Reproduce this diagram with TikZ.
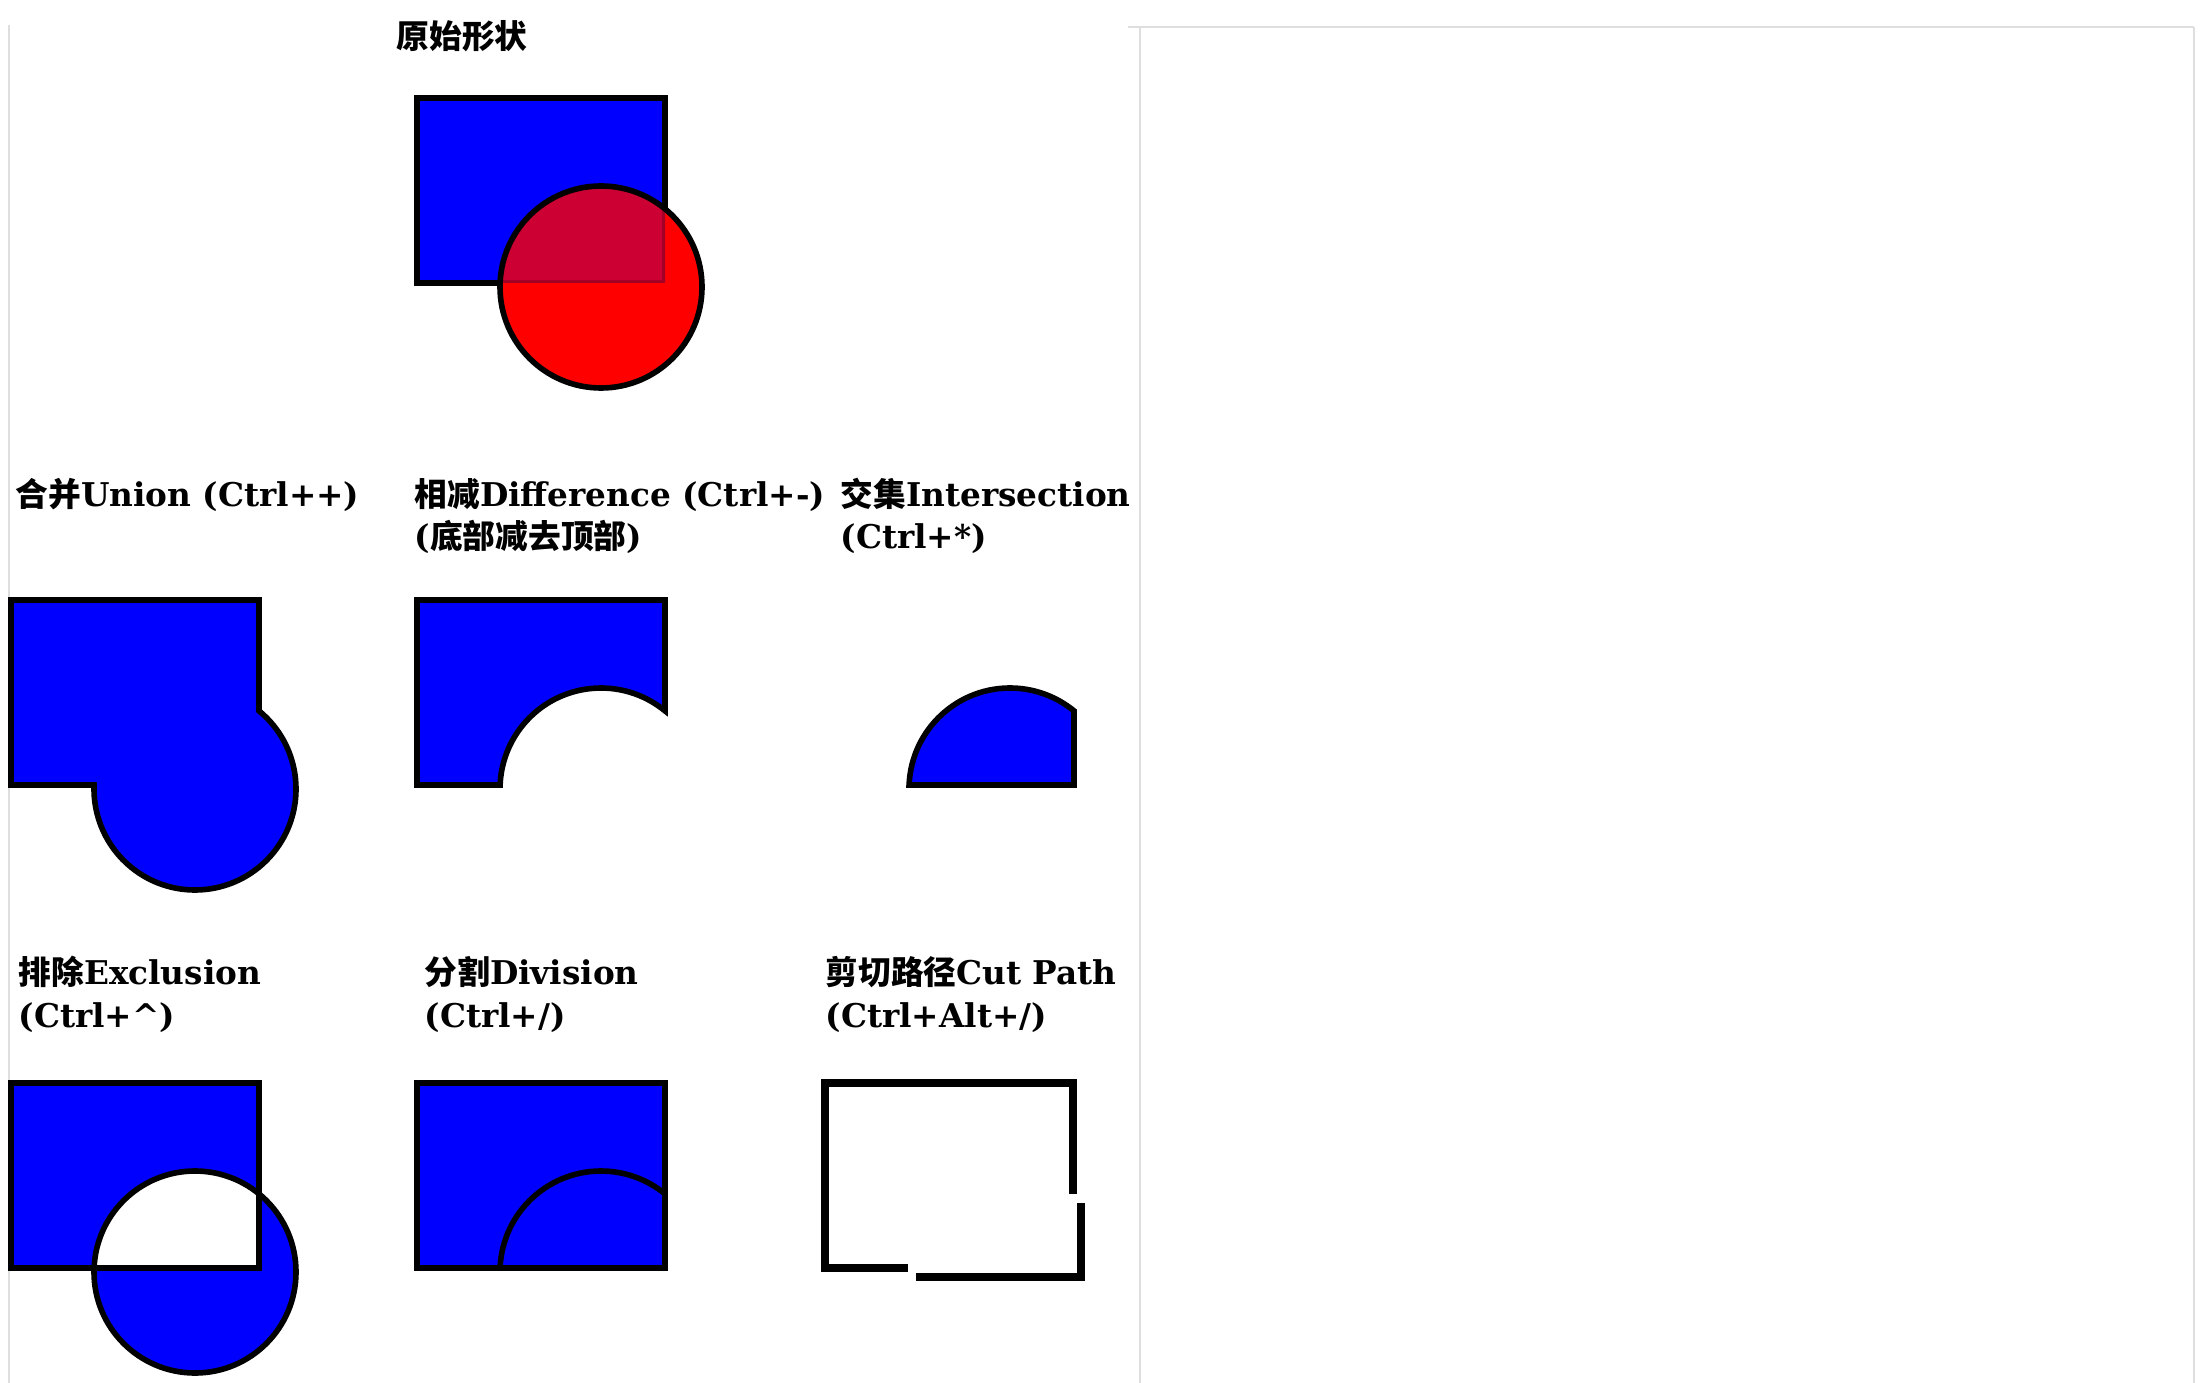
\documentclass[tikz,border=0pt]{standalone}
\usepackage{fontspec}
\setmainfont{DejaVu Serif}
\newfontfamily\cjk{Noto Sans CJK SC}
\usepackage{tikz}
\definecolor{shapeblue} {RGB}{0,   0, 255}
\definecolor{shapered}  {RGB}{255, 0,   0}
\definecolor{framegray} {RGB}{222,222,222}
\newcommand{\zh}[1]{{\cjk #1}}

\begin{document}
\begin{tikzpicture}[
      x=0.01cm, y=-0.01cm,
      lbl/.style={anchor=base west, inner sep=0pt, align=left,
                  font=\fontsize{9.3pt}{12pt}\selectfont\bfseries},
      outl/.style={draw=black, line width=1.6pt},
      bshape/.style={outl, fill=shapeblue},
      cutline/.style={draw=black, line width=2.4pt},
      panel/.style={draw=framegray, line width=0.6pt},
    ]
      \useasboundingbox (0,0) rectangle (2207,1383);

      % Panel frames
      \draw[panel] (9,25) -- (9,1383);
      \draw[panel] (1128,27) -- (2194,27);
      \draw[panel] (1140,27) -- (1140,1383);
      \draw[panel] (2194,27) -- (2194,1383);

      % Labels (base = last line)
      \node[lbl] (orig)   at (396,49)   {\zh{原始形状}};
      \node[lbl] (lunion) at (15,507)   {\zh{合并}Union (Ctrl++)};
      \node[lbl] (ldiff)  at (414,549)  {\zh{相减}Difference (Ctrl+-)\\(\zh{底部减去顶部})};
      \node[lbl] (linter) at (840,549)  {\zh{交集}Intersection\\(Ctrl+*)};
      \node[lbl] (lexcl)  at (18,1027)  {\zh{排除}Exclusion\\(Ctrl+\textasciicircum)};
      \node[lbl] (ldiv)   at (424,1027) {\zh{分割}Division\\(Ctrl+/)};
      \node[lbl] (lcut)   at (825,1027) {\zh{剪切路径}Cut Path\\(Ctrl+Alt+/)};

      % Original shapes
      \begin{scope}[shift={(417,98)}]
        \filldraw[bshape] (0,0) rectangle (248,185);
        \fill[shapered] (184,189) circle[radius=101];
        \begin{scope}
          \clip (0,0) rectangle (248,185);
          \fill[shapeblue, opacity=0.2] (184,189) circle[radius=101];
          \draw[outl, opacity=0.2] (0,0) rectangle (248,185);
        \end{scope}
        \draw[outl] (184,189) circle[radius=101];
      \end{scope}

      % Union
      \begin{scope}[shift={(11,600)}]
        \filldraw[bshape] (0,0) -- (248,0) -- (248,110.87)
              arc[start angle=-50.68, end angle=182.27, radius=101]
              -- (0,185) -- cycle;
      \end{scope}

      % Difference
      \begin{scope}[shift={(417,600)}]
        \filldraw[bshape] (0,0) -- (248,0) -- (248,110.87)
              arc[start angle=-50.68, end angle=-177.73, radius=101]
              -- (0,185) -- cycle;
      \end{scope}

      % Intersection
      \begin{scope}[shift={(826,600)}]
        \filldraw[bshape] (83.08,185)
              arc[start angle=-177.73, end angle=-50.68, radius=101]
              -- (248,185) -- cycle;
      \end{scope}

      % Exclusion
      \begin{scope}[shift={(11,1083)}]
        \filldraw[bshape, even odd rule] (0,0) rectangle (248,185)
              (184,189) circle[radius=101];
      \end{scope}

      % Division
      \begin{scope}[shift={(417,1083)}]
        \filldraw[bshape] (0,0) rectangle (248,185);
        \draw[outl] (83.08,185) arc[start angle=-177.73, end angle=-50.68, radius=101];
      \end{scope}

      % Cut path
      \begin{scope}[shift={(825,1083)}]
        \draw[cutline] (83.08,185) -- (0,185) -- (0,0) -- (248,0) -- (248,110.87);
        \draw[cutline] (256,119.87) -- (256,194) -- (91.08,194);
      \end{scope}
    \end{tikzpicture}
\end{document}
